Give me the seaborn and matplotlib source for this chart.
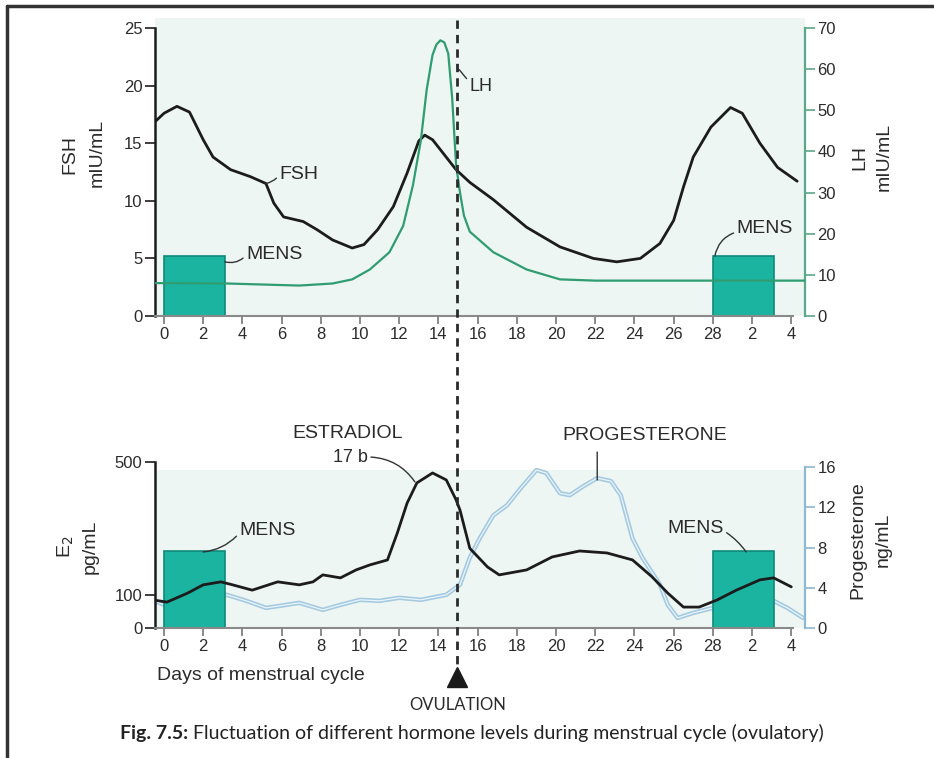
import matplotlib
matplotlib.use("Agg")
import matplotlib.pyplot as plt
import seaborn as sns
from matplotlib.lines import Line2D
from matplotlib.patches import Rectangle
import matplotlib.transforms as mtransforms

# ---------------- data ----------------
fsh_days = [-0.5, 0.0, 0.66, 1.3, 2.0, 2.5, 3.4, 4.4, 5.2, 5.6, 6.1, 7.1, 7.8, 8.6, 9.6,
            10.2, 10.9, 11.7, 12.4, 13.0, 13.3, 13.7, 14.9, 15.6, 16.8, 18.5, 20.2, 21.9,
            23.1, 24.3, 25.3, 26.0, 26.5, 27.0, 27.9, 28.9, 29.5, 30.4, 31.3, 32.3]
fsh_vals = [16.8, 17.6, 18.2, 17.7, 15.3, 13.8, 12.7, 12.1, 11.5, 9.8, 8.6, 8.2, 7.5, 6.6, 5.9,
            6.2, 7.5, 9.5, 12.4, 15.2, 15.7, 15.3, 12.7, 11.6, 10.1, 7.7, 6.0, 5.0,
            4.7, 5.0, 6.3, 8.3, 11.2, 13.8, 16.4, 18.1, 17.6, 15.0, 12.9, 11.7]

lh_days = [-0.5, 3.2, 6.9, 8.6, 9.6, 10.5, 11.5, 12.2, 12.7, 13.1, 13.4, 13.7, 13.9, 14.1,
           14.3, 14.5, 14.7, 14.9, 15.1, 15.3, 15.6, 16.8, 18.5, 20.2, 22.0, 32.7]
lh_vals = [8.0, 7.9, 7.4, 7.9, 8.9, 11.3, 15.5, 21.9, 31.8, 42.6, 55.0, 63.5, 66.0, 67.0,
           66.5, 63.8, 53.0, 36.7, 30.0, 24.4, 20.5, 15.5, 11.3, 8.9, 8.6, 8.6]

e2_days = [-0.5, 0.15, 1.2, 2.0, 2.9, 3.5, 4.5, 5.8, 6.9, 7.6, 8.1, 9.0, 9.8, 10.5, 11.4,
           11.9, 12.4, 12.9, 13.7, 14.4, 14.9, 15.1, 15.6, 16.5, 17.1, 18.5, 19.8, 21.2,
           22.6, 23.9, 24.9, 25.7, 26.5, 27.3, 28.2, 29.2, 30.4, 31.1, 32.0]
e2_vals = [84, 78, 105, 130, 139, 130, 114, 139, 130, 139, 160, 151, 175, 190, 205,
           286, 376, 437, 467, 446, 386, 355, 240, 184, 160, 175, 214, 232,
           226, 205, 154, 105, 63, 63, 84, 114, 145, 151, 124]

prog_days = [-0.5, 0.15, 1.2, 2.2, 3.2, 4.2, 5.2, 5.9, 6.9, 8.1, 9.0, 10.0, 11.0, 12.0,
             13.1, 14.4, 15.1, 15.6, 16.1, 16.8, 17.5, 18.2, 19.0, 19.5, 20.2, 20.7, 21.4,
             22.1, 22.8, 23.3, 23.9, 24.4, 25.3, 25.7, 26.2, 27.0, 28.0, 28.7, 29.7, 30.4,
             31.1, 31.8, 32.6]
prog_vals = [2.7, 2.2, 1.8, 2.5, 3.3, 2.7, 2.0, 2.2, 2.5, 1.8, 2.3, 2.8, 2.7, 3.0,
             2.8, 3.3, 4.3, 7.0, 8.9, 11.2, 12.2, 13.9, 15.7, 15.4, 13.4, 13.2, 14.1,
             14.9, 14.6, 13.2, 8.9, 7.0, 4.3, 2.3, 1.0, 1.5, 2.0, 2.0, 1.7, 2.2,
             2.7, 2.0, 1.0]

day_ticks = list(range(0, 33, 2))
day_labels = ["0", "2", "4", "6", "8", "10", "12", "14", "16", "18", "20", "22",
              "24", "26", "28", "2", "4"]
fsh_ticks = [0, 5, 10, 15, 20, 25]
lh_ticks = [0, 10, 20, 30, 40, 50, 60, 70]
e2_ticks = [0, 100, 500]
prog_ticks = [0, 4, 8, 12, 16]

mens_start = [0.0, 28.0]
mens_width = [3.1, 3.1]
mens_top_fsh = 5.2
mens_top_e2 = 232
ovulation_day = 14.95

# ---------------- style ----------------
sns.set_style("white")
plt.rcParams["font.family"] = ["Liberation Sans", "DejaVu Sans"]

W, H = 934, 758
fig = plt.figure(figsize=(W / 100, H / 100), dpi=100)
fig.patch.set_facecolor("white")


def fx(px):
    return px / W


def fy(py):
    return 1 - py / H


BG = "#edf6f2"
TEAL = "#1bb4a0"
TEAL_EDGE = "#0e8b79"
DARK = "#1c1c1c"
TXT = "#2b2b2b"
LH_COL = "#2f9c72"
PROG_COL = "#a4c9e0"

# background shading (figure level, behind axes)
fig.patches.append(Rectangle((fx(155), fy(316)), fx(805) - fx(155), fy(18) - fy(316),
                             transform=fig.transFigure, color=BG, zorder=-5, lw=0))
fig.patches.append(Rectangle((fx(155), fy(628)), fx(805) - fx(155), fy(470) - fy(628),
                             transform=fig.transFigure, color=BG, zorder=-5, lw=0))

XL = (-0.46, 32.7)

# ---------------- top panel ----------------
ax1 = fig.add_axes([fx(155), fy(316), fx(805) - fx(155), fy(28) - fy(316)])
ax1.patch.set_alpha(0)
ax1.set_xlim(*XL)
ax1.set_ylim(0, 25)
for i in range(len(mens_start)):
    ax1.add_patch(Rectangle((mens_start[i], 0), mens_width[i], mens_top_fsh,
                            fc=TEAL, ec=TEAL_EDGE, lw=1.2, zorder=1))
sns.lineplot(x=fsh_days, y=fsh_vals, ax=ax1, color=DARK, lw=2.0,
             estimator=None, sort=False, zorder=3)

ax_lh = ax1.twinx()
ax_lh.set_ylim(0, 70)
sns.lineplot(x=lh_days, y=lh_vals, ax=ax_lh, color=LH_COL, lw=1.6,
             estimator=None, sort=False, zorder=3)
ax_lh.set_xlim(*XL)

# ---------------- bottom panel ----------------
ax2 = fig.add_axes([fx(155), fy(628), fx(805) - fx(155), fy(462) - fy(628)])
ax2.patch.set_alpha(0)
ax2.set_xlim(*XL)
ax2.set_ylim(0, 500)
for i in range(len(mens_start)):
    ax2.add_patch(Rectangle((mens_start[i], 0), mens_width[i], mens_top_e2,
                            fc=TEAL, ec=TEAL_EDGE, lw=1.2, zorder=1))
sns.lineplot(x=e2_days, y=e2_vals, ax=ax2, color=DARK, lw=2.0,
             estimator=None, sort=False, zorder=4)

ax_p = ax2.twinx()
ax_p.set_ylim(0, 16.5)
sns.lineplot(x=prog_days, y=prog_vals, ax=ax_p, color=PROG_COL, lw=3.2,
             estimator=None, sort=False, zorder=2)
sns.lineplot(x=prog_days, y=prog_vals, ax=ax_p, color="#e9f5fb", lw=0.9,
             estimator=None, sort=False, zorder=2)
ax_p.set_xlim(*XL)
ax2.set_zorder(ax_p.get_zorder() + 1)
ax2.patch.set_visible(False)

# ---------------- axes cosmetics ----------------
for ax in (ax1, ax2):
    ax.set_xticks(day_ticks)
    ax.set_xticklabels(day_labels)
    ax.set_xlabel("")
    ax.set_ylabel("")
    ax.spines["top"].set_visible(False)
    ax.spines["right"].set_visible(False)
    ax.spines["left"].set_color(DARK)
    ax.spines["left"].set_linewidth(1.8)
    ax.spines["bottom"].set_color("#8a8a8a")
    ax.spines["bottom"].set_linewidth(1.5)
    ax.spines["bottom"].set_bounds(XL[0], 32.1)
    ax.tick_params(axis="x", direction="out", length=6, width=1.2, color="#777777",
                   labelsize=12, pad=2, labelcolor=TXT, bottom=True)
    ax.tick_params(axis="y", direction="out", length=7, width=1.2, color=DARK,
                   labelsize=12, pad=2, labelcolor=TXT, left=True)

ax1.set_yticks(fsh_ticks)
ax2.set_yticks(e2_ticks)

for ax, col, ticks in ((ax_lh, "#5aa88a", lh_ticks), (ax_p, "#8fb8d2", prog_ticks)):
    for s in ("top", "left", "bottom"):
        ax.spines[s].set_visible(False)
    ax.spines["right"].set_color(col)
    ax.spines["right"].set_linewidth(1.6)
    ax.set_yticks(ticks)
    ax.set_ylabel("")
    ax.tick_params(axis="y", direction="out", length=7, width=1.2, color=col,
                   labelsize=12, pad=2, labelcolor=TXT, right=True)
ax_p.spines["right"].set_bounds(0, 16)

# ---------------- annotations ----------------
LAB = 14
arrow = dict(arrowstyle="-", color="#333333", lw=1.0, shrinkA=0, shrinkB=0)

ax1.annotate("FSH", xy=(5.2, 11.5), xytext=(5.9, 12.3), fontsize=LAB, color=TXT,
             ha="left", va="center",
             arrowprops=dict(arrow, relpos=(0, 0.5), connectionstyle="arc3,rad=-0.2"))
ax1.annotate("MENS", xy=(3.1, 4.7), xytext=(4.2, 5.3), fontsize=LAB, color=TXT,
             ha="left", va="center",
             arrowprops=dict(arrow, relpos=(0, 0.5), connectionstyle="arc3,rad=-0.3"))
ax1.annotate("LH", xy=(15.05, 21.4), xytext=(15.6, 19.9), fontsize=LAB - 1, color=TXT,
             ha="left", va="center", annotation_clip=False,
             arrowprops=dict(arrow, relpos=(0, 0.75)))
ax1.annotate("MENS", xy=(28.1, 5.2), xytext=(32.1, 7.6), fontsize=LAB, color=TXT,
             ha="right", va="center", annotation_clip=False,
             arrowprops=dict(arrow, relpos=(0, 0.3), connectionstyle="arc3,rad=0.3"))

ax2.text(9.35, 587, "ESTRADIOL", fontsize=LAB, color=TXT, ha="center", va="center",
         clip_on=False)
ax2.annotate("17 b", xy=(12.8, 440), xytext=(9.5, 515), fontsize=LAB - 1, color=TXT,
             ha="center", va="center", annotation_clip=False,
             arrowprops=dict(arrow, relpos=(1.05, 0.5), connectionstyle="arc3,rad=-0.25"))
ax2.annotate("MENS", xy=(2.0, 229), xytext=(5.3, 295), fontsize=LAB, color=TXT,
             ha="center", va="center",
             arrowprops=dict(arrow, relpos=(0, 0.35), connectionstyle="arc3,rad=-0.2"))
ax2.text(24.5, 581, "PROGESTERONE", fontsize=LAB, color=TXT, ha="center", va="center",
         clip_on=False)
ax2.annotate("", xy=(22.1, 446), xytext=(22.1, 530), annotation_clip=False,
             arrowprops=dict(arrow))
ax2.annotate("MENS", xy=(29.7, 229), xytext=(27.1, 301), fontsize=LAB, color=TXT,
             ha="center", va="center",
             arrowprops=dict(arrow, relpos=(1, 0.35), connectionstyle="arc3,rad=-0.1"))

# axis titles (figure text)
fig.text(fx(70), fy(155), "FSH", rotation=90, fontsize=LAB, color=TXT, ha="center", va="center")
fig.text(fx(97), fy(153), "mIU/mL", rotation=90, fontsize=LAB, color=TXT, ha="center", va="center")
fig.text(fx(860), fy(157), "LH", rotation=90, fontsize=LAB, color=TXT, ha="center", va="center")
fig.text(fx(884), fy(157), "mIU/mL", rotation=90, fontsize=LAB, color=TXT, ha="center", va="center")
fig.text(fx(66), fy(547), "E$_2$", rotation=90, fontsize=LAB, color=TXT, ha="center", va="center")
fig.text(fx(90), fy(547), "pg/mL", rotation=90, fontsize=LAB, color=TXT, ha="center", va="center")
fig.text(fx(858), fy(540), "Progesterone", rotation=90, fontsize=LAB, color=TXT, ha="center", va="center")
fig.text(fx(883), fy(540), "ng/mL", rotation=90, fontsize=LAB, color=TXT, ha="center", va="center")
fig.text(fx(157), fy(675), "Days of menstrual cycle", fontsize=LAB, color=TXT, ha="left", va="center")
fig.text(fx(458), fy(705), "OVULATION", fontsize=12, color=TXT, ha="center", va="center",
         family=["Lato", "DejaVu Sans"])

# ovulation dashed line + triangle
trans = mtransforms.blended_transform_factory(ax1.transData, fig.transFigure)
fig.add_artist(Line2D([ovulation_day, ovulation_day], [fy(20), fy(665)], transform=trans,
                      color="#2a2a2a", lw=2.0, ls=(0, (3, 2.2))))
fig.add_artist(Line2D([ovulation_day], [fy(677)], transform=trans, marker="^",
                      markersize=15, color="#1a1a1a", lw=0))

# frame lines
fig.add_artist(Line2D([fx(7), 1.0], [fy(6), fy(6)], color="#333333", lw=2.5))
fig.add_artist(Line2D([fx(7), fx(7)], [fy(6), 0.0], color="#333333", lw=2.5))

# caption: bold + regular
cap_y = fy(733)
t_b = fig.text(0, cap_y, "Fig. 7.5:", fontsize=14, fontweight="bold", color="#222222",
               ha="left", va="center", family=["Lato", "DejaVu Sans"])
t_r = fig.text(0, cap_y, " Fluctuation of different hormone levels during menstrual cycle (ovulatory)",
               fontsize=14, color="#222222", ha="left", va="center", family=["Lato", "DejaVu Sans"])
renderer = fig.canvas.get_renderer()
wb = t_b.get_window_extent(renderer).width
wr = t_r.get_window_extent(renderer).width
x0 = 472 - (wb + wr) / 2
t_b.set_x(x0 / W)
t_r.set_x((x0 + wb) / W)

fig.savefig("out.png", dpi=100)
